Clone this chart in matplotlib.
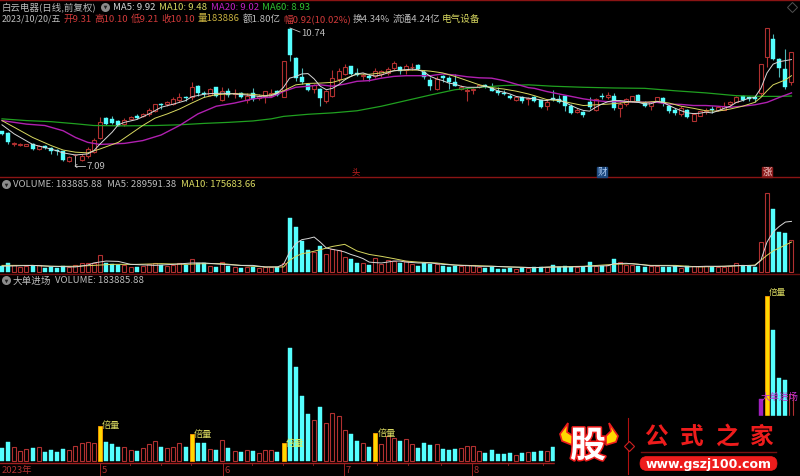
import numpy as np
from matplotlib import pyplot as plt
from matplotlib.patches import Rectangle, FancyBboxPatch, Polygon
import matplotlib.patheffects as pe

plt.rcParams['font.family'] = ['Noto Sans CJK SC', 'DejaVu Sans']

# daily candles
open_price = [7.80,7.74,7.42,7.41,7.39,7.42,7.30,7.38,7.33,7.26,
              7.22,6.95,7.12,6.99,7.10,7.20,7.61,8.17,8.14,8.09,
              8.00,8.15,8.23,8.23,8.28,8.38,8.57,8.57,8.57,8.70,
              8.77,8.76,9.09,8.89,8.84,9.05,8.69,8.95,8.87,8.89,
              8.68,8.89,8.74,8.79,8.81,8.95,8.77,10.72,9.88,9.34,
              9.14,9.00,9.00,8.66,8.80,9.29,9.43,9.65,9.46,9.36,
              9.36,9.38,9.44,9.46,9.60,9.63,9.55,9.62,9.69,9.48,
              9.27,9.00,9.36,9.31,9.19,9.00,8.94,8.97,9.06,9.12,
              9.04,8.93,8.88,8.81,8.70,8.77,8.72,8.76,8.68,8.51,
              8.75,8.73,8.79,8.53,8.34,8.35,8.62,8.40,8.81,8.77,
              8.81,8.45,8.57,8.67,8.84,8.62,8.53,8.66,8.75,8.51,
              8.39,8.29,8.40,8.10,8.24,8.36,8.42,8.40,8.41,8.58,
              8.64,8.80,8.76,8.76,8.88,9.90,10.43,9.86,9.57,9.19]
close_price = [7.72,7.48,7.46,7.43,7.43,7.29,7.38,7.33,7.24,7.23,
               6.98,7.06,7.12,7.08,7.29,7.55,8.05,8.01,8.03,7.96,
               8.13,8.21,8.18,8.30,8.40,8.57,8.55,8.62,8.72,8.77,
               8.75,9.07,8.88,8.87,8.99,8.80,8.95,8.83,8.90,8.76,
               8.81,8.73,8.79,8.93,8.88,8.83,9.79,9.98,9.32,9.19,
               8.98,9.12,8.74,8.95,9.31,9.50,9.62,9.42,9.39,9.41,
               9.32,9.52,9.51,9.57,9.74,9.52,9.67,9.62,9.57,9.34,
               9.08,9.29,9.31,9.21,9.10,9.05,8.98,9.00,9.12,9.07,
               8.95,8.88,8.85,8.75,8.76,8.67,8.74,8.67,8.50,8.64,
               8.69,8.64,8.53,8.32,8.40,8.27,8.49,8.72,8.78,8.84,
               8.46,8.57,8.72,8.79,8.64,8.53,8.62,8.76,8.60,8.36,
               8.32,8.45,8.20,8.28,8.36,8.40,8.40,8.49,8.51,8.62,
               8.77,8.69,8.72,8.71,9.70,10.73,9.86,9.59,9.05,10.05]
high_price = [7.81,7.77,7.50,7.45,7.44,7.45,7.41,7.41,7.36,7.29,
              7.24,7.10,7.15,7.15,7.34,7.60,8.21,8.19,8.23,8.12,
              8.17,8.24,8.29,8.32,8.45,8.58,8.59,8.66,8.76,8.88,
              8.80,9.19,9.11,8.95,9.02,9.07,9.05,9.04,9.00,8.92,
              8.89,9.02,8.86,8.94,9.00,8.97,9.79,10.74,9.90,9.60,
              9.16,9.14,9.02,8.98,9.54,9.59,9.70,9.67,9.59,9.46,
              9.43,9.59,9.55,9.62,9.81,9.67,9.70,9.73,9.72,9.54,
              9.33,9.38,9.40,9.36,9.44,9.12,9.02,9.02,9.15,9.14,
              9.17,9.05,8.98,8.85,8.81,8.81,8.76,8.81,8.70,8.72,
              8.98,8.83,8.81,8.57,8.45,8.38,8.76,8.74,8.89,8.91,
              8.88,8.62,8.74,8.81,8.85,8.66,8.67,8.78,8.77,8.53,
              8.45,8.51,8.42,8.30,8.38,8.45,8.53,8.53,8.62,8.67,
              8.79,8.83,8.79,8.79,9.72,10.73,10.58,9.88,10.14,10.07]
low_price = [7.69,7.42,7.37,7.38,7.37,7.27,7.27,7.29,7.15,7.13,
             6.95,6.91,7.09,6.95,7.03,7.18,7.58,7.98,8.00,7.94,
             7.95,8.13,8.15,8.19,8.24,8.34,8.43,8.51,8.55,8.62,
             8.65,8.69,8.81,8.76,8.81,8.76,8.65,8.78,8.75,8.74,
             8.59,8.66,8.70,8.60,8.79,8.81,8.76,9.79,9.24,9.14,
             8.94,8.89,8.51,8.59,8.78,9.19,9.40,9.40,9.36,9.27,
             9.24,9.32,9.34,9.40,9.54,9.43,9.43,9.55,9.54,9.29,
             8.98,8.98,9.21,9.00,9.08,8.98,8.67,8.86,9.04,9.02,
             8.93,8.84,8.82,8.72,8.67,8.60,8.55,8.62,8.47,8.39,
             8.66,8.60,8.36,8.30,8.32,8.20,8.43,8.37,8.72,8.72,
             8.41,8.19,8.51,8.62,8.62,8.48,8.40,8.62,8.53,8.32,
             8.26,8.22,8.17,8.09,8.22,8.29,8.32,8.36,8.39,8.51,
             8.62,8.67,8.66,8.62,8.79,9.62,9.84,9.33,9.00,9.12]

# volume in thousands
volume = [35,51,38,28,32,35,38,24,30,24,33,30,41,50,52,49,97,52,48,38,
          39,30,28,36,46,54,38,36,38,50,39,73,50,50,32,30,59,35,28,24,
          29,27,21,29,30,26,50,310,259,178,128,113,148,104,131,124,84,73,54,50,
          39,78,46,70,63,54,61,48,35,50,44,46,32,30,32,35,40,40,27,22,
          30,19,19,22,16,22,24,26,28,28,38,27,34,27,29,29,56,36,33,38,
          73,59,38,38,33,29,33,33,31,29,33,25,33,33,33,33,31,27,29,33,
          50,33,36,29,170,454,360,228,222,184]

# price moving averages: candle index, value
ma5_i = [0,2,5,8,10,12,14,15,16,18,19,20,22,24,26,28,30,31,33,34,36,38,40,42,44,45,46,47,48,49,
         50,51,52,53,54,55,56,57,58,59,60,61,62,63,64,65,66,67,68,69,70,71,72,73,74,75,76,77,78,79,
         80,81,82,83,84,85,86,87,88,89,90,91,92,93,94,95,96,97,98,99,100,101,102,103,104,105,106,107,108,109,
         110,111,112,113,114,115,116,117,118,119,120,121,122,123,124,125,126,127,128,129]
ma5_v = [7.98,7.72,7.42,7.29,7.18,7.12,7.15,7.24,7.43,7.77,7.98,8.05,8.13,8.29,8.48,8.57,8.67,8.78,8.85,8.87,
         8.88,8.86,8.83,8.79,8.81,8.88,9.05,9.31,9.36,9.43,
         9.44,9.29,9.08,8.98,9.02,9.12,9.26,9.36,9.43,9.46,9.40,9.37,9.40,9.46,9.52,9.54,9.55,9.57,9.55,9.48,
         9.36,9.29,9.24,9.17,9.14,9.08,9.05,9.05,9.05,9.08,
         9.02,8.95,8.91,8.86,8.79,8.76,8.74,8.72,8.69,8.67,8.72,8.69,8.62,8.53,8.45,8.39,8.37,8.48,8.57,8.64,
         8.67,8.67,8.65,8.63,8.62,8.57,8.58,8.64,8.62,8.53,
         8.45,8.38,8.32,8.30,8.31,8.34,8.32,8.38,8.45,8.51,8.62,8.67,8.74,8.76,9.02,9.46,9.71,9.78,9.81,9.84]
ma10_i = [0,2,5,8,10,12,14,16,19,21,23,25,27,29,31,33,35,38,41,43,44,46,48,50,52,54,56,58,60,62,64,66,68,70,
          72,74,76,78,80,82,84,86,87,89,91,93,95,97,99,101,103,105,107,109,111,113,115,117,119,121,123,124,125,126,127,128,129]
ma10_v = [8.10,7.91,7.62,7.39,7.26,7.20,7.18,7.29,7.48,7.72,7.96,8.17,8.29,8.43,8.60,8.76,8.84,8.87,8.85,8.81,
          8.84,8.95,9.12,9.16,9.17,9.19,9.29,9.43,9.42,9.46,9.52,9.54,9.54,9.51,
          9.46,9.36,9.24,9.12,9.04,9.00,8.94,8.86,8.81,8.70,8.67,8.60,8.53,8.55,8.57,8.60,8.64,8.62,8.65,8.60,
          8.51,8.45,8.38,8.37,8.43,8.51,8.62,8.76,8.95,9.12,9.19,9.26,9.38]
ma20_i = [0,4,7,10,12,14,16,20,23,26,29,32,35,38,41,43,44,46,48,50,52,54,56,58,60,62,64,66,68,70,72,74,76,78,80,
          82,84,86,87,89,91,93,95,97,99,101,103,105,107,109,111,113,115,117,119,121,123,125,127,129]
ma20_v = [8.10,8.00,7.96,7.81,7.62,7.48,7.42,7.45,7.53,7.69,7.96,8.29,8.51,8.60,8.72,8.76,8.76,8.93,9.05,9.08,
          9.12,9.08,9.14,9.22,9.24,9.31,9.36,9.38,9.38,9.38,9.43,9.40,9.35,9.32,9.31,
          9.24,9.14,9.04,9.02,8.93,8.86,8.79,8.72,8.67,8.64,8.64,8.64,8.62,8.62,8.57,8.56,8.53,8.53,8.51,8.48,
          8.51,8.55,8.62,8.76,8.89]
ma60_i = [0,4,8,12,15,20,25,29,33,37,41,44,46,50,54,58,62,66,70,74,78,82,86,90,95,100,105,110,115,120,124,127,129]
ma60_v = [8.15,8.10,8.07,8.01,7.96,7.95,7.96,7.98,8.02,8.05,8.09,8.15,8.22,8.28,8.32,8.38,8.51,8.67,8.83,8.98,
          9.05,9.10,9.12,9.08,9.05,9.03,9.02,8.95,8.89,8.81,8.79,8.79,8.80]

# volume moving averages
vol5_i = [0,5,8,12,14,15,17,19,21,25,28,31,33,36,39,41,43,44,45,46,47,48,49,50,51,52,53,54,55,56,57,58,59,60,61,62,63,64,65,66,
          68,70,72,75,78,80,83,87,90,93,96,99,100,102,104,106,109,112,115,118,121,123,124,125,126,127,128,129]
vol5_v = [33,38,33,29,40,52,63,61,44,38,44,52,52,44,38,38,29,29,29,44,115,163,186,192,201,172,138,130,124,115,101,90,77,57,54,52,57,63,63,57,
          52,52,44,38,33,33,29,25,29,29,33,36,48,50,44,36,36,29,33,33,38,36,67,172,230,262,287,291]
vol10_i = [0,5,8,12,15,18,22,26,30,33,36,39,43,44,46,47,48,49,50,52,54,56,58,60,62,64,66,68,71,74,78,83,87,
           90,95,100,103,106,110,114,118,122,123,124,125,126,127,128,129]
vol10_v = [38,38,33,33,38,44,44,48,44,48,48,38,29,29,29,67,90,105,111,128,147,159,121,101,90,77,63,57,52,40,36,29,25,
           29,33,44,48,38,38,29,33,38,40,67,96,121,138,155,172]

gold_bars = [16,31,46,61,125]
purple_bars = [124]

RED = '#b03030'
CYAN = '#55ffff'
BAR_W = 0.66

x = np.arange(len(volume))
x_min, x_max = -2/6.12, 798/6.12
is_up = np.array(close_price) >= np.array(open_price)

fig = plt.figure(figsize=(8, 4.77), dpi=100, facecolor='black')

def make_ax(top, bottom):
    ax = fig.add_axes([0, 1 - bottom/477, 1, (bottom - top)/477], facecolor='black')
    ax.set_xlim(x_min, x_max)
    ax.axis('off')
    return ax

# price panel
ax1 = make_ax(0, 178)
ax1.set_ylim(6.492, 11.567)
for i in x:
    col = RED if is_up[i] else '#50b8b8'
    ax1.vlines(i, low_price[i], high_price[i], color=col, lw=0.8, zorder=1)
    lo = min(open_price[i], close_price[i])
    hi = max(open_price[i], close_price[i])
    if is_up[i]:
        ax1.bar(i, max(hi - lo, 0.01), BAR_W, bottom=lo, facecolor='black', edgecolor=RED, lw=0.8, zorder=2)
    else:
        ax1.bar(i, max(hi - lo, 0.01), BAR_W, bottom=lo, facecolor=CYAN, edgecolor=CYAN, lw=0.3, zorder=2)
ax1.plot(ma60_i, ma60_v, color='#20a020', lw=0.9, zorder=3)
ax1.plot(ma20_i, ma20_v, color='#b020b0', lw=1.0, zorder=3)
ax1.plot(ma10_i, ma10_v, color='#d8d860', lw=0.7, zorder=4)
ax1.plot(ma5_i, ma5_v, color='#d8d8d8', lw=0.7, zorder=4)

# volume panel
ax2 = make_ax(178, 274)
ax2.set_ylim(-5.7, 546)
for i in x:
    if is_up[i]:
        ax2.bar(i, volume[i], BAR_W, facecolor='black', edgecolor=RED, lw=0.8)
    else:
        ax2.bar(i, volume[i], BAR_W, facecolor=CYAN, edgecolor=CYAN, lw=0.3)
ax2.plot(vol10_i, vol10_v, color='#d8d860', lw=0.7, zorder=4)
ax2.plot(vol5_i, vol5_v, color='#d8d8d8', lw=0.7, zorder=4)

# big order panel
ax3 = make_ax(275, 464)
ax3.set_ylim(-5.5, 514)
for i in x:
    if i in gold_bars:
        ax3.bar(i, volume[i], BAR_W, facecolor='#ffd800', edgecolor='#ff9a00', lw=0.6)
    elif i in purple_bars:
        ax3.bar(i, volume[i], BAR_W, facecolor='#a020c0', edgecolor='#a020c0', lw=0.3)
    elif is_up[i]:
        ax3.bar(i, volume[i], BAR_W, facecolor='black', edgecolor=RED, lw=0.8)
    else:
        ax3.bar(i, volume[i], BAR_W, facecolor=CYAN, edgecolor=CYAN, lw=0.3)

# everything else goes on an overlay in pixel coordinates
ov = fig.add_axes([0, 0, 1, 1], facecolor='none', zorder=10)
ov.set_xlim(0, 800)
ov.set_ylim(477, 0)
ov.axis('off')

def txt(px, py, s, color, size=6.9, **kw):
    ov.text(px, py, s, color=color, fontsize=size, va='center', ha='left', **kw)

def icon(px, py):
    ov.plot(px, py, 'o', ms=6.5, color='#8c8c8c', mew=0)
    ov.plot(px, py + 0.5, 'v', ms=2.6, color='#222222', mew=0)

# frame lines
for py, col in [(0.5, '#8a1414'), (178, '#8a1414'), (274.5, '#6e1010'), (464, '#a02020')]:
    ov.plot([0, 800], [py, py], color=col, lw=1.0)

# header rows
G = '#bdbdbd'
R = '#d03a3a'
Y = '#d8d860'
txt(2, 8, '白云电器(日线,前复权)', G, size=6.8)
icon(105, 7.5)
txt(113, 8, 'MA5: 9.92', '#d8d8d8')
txt(159, 8, 'MA10: 9.48', Y)
txt(211, 8, 'MA20: 9.02', '#c020c0')
txt(262, 8, 'MA60: 8.93', '#30c030')
txt(2, 19, '2023/10/20/五', G, size=6.4)
txt(63, 19, '开9.31', R)
txt(94, 19, '高10.10', R)
txt(131, 19, '低9.21', R)
txt(161, 19, '收10.10', R)
txt(198, 19, '量183886', '#c8b040')
txt(243, 19, '额1.80亿', G)
txt(283, 19, '幅0.92(10.02%)', R)
txt(353, 19, '换4.34%', G)
txt(393, 19, '流通4.24亿', G)
txt(442, 19, '电气设备', Y)

# high / low labels
ov.plot([290, 300], [29, 33], color='#c8c8c8', lw=0.6)
txt(301, 34, '10.74', G)
ov.plot([75, 75, 85], [157, 167, 167], color='#c8c8c8', lw=0.6)
ov.plot([77, 75, 77], [165.5, 167, 168.5], color='#c8c8c8', lw=0.6)
txt(86, 167, '7.09', G)

# markers at the bottom of the price panel
txt(352, 172, '头', '#c82020', size=6)
ov.add_patch(Rectangle((597, 168), 10, 9.5, color='#1e4a80', zorder=2))
txt(597.5, 172.5, '财', '#a8c8f0', size=6.8, zorder=3)
ov.add_patch(Rectangle((762, 168), 10, 9.5, color='#8a1a1a', zorder=2))
txt(762.5, 172.5, '涨', '#f0c8c8', size=6.8, zorder=3)
ov.plot(791.5, 8, 'D', ms=5.5, mfc='none', mec='#505050', mew=0.7)

# panel titles
icon(6, 185)
txt(13, 185, 'VOLUME: 183885.88', G)
txt(107, 185, 'MA5: 289591.38', G)
txt(181, 185, 'MA10: 175683.66', Y)
icon(6, 281)
txt(13, 281, '大单进场', G)
txt(55, 281, 'VOLUME: 183885.88', G)

# bar labels
txt(102, 425, '倍量', Y, size=6.6)
txt(194, 434, '倍量', Y, size=6.6)
txt(286, 443, '倍量', '#d8f060', size=6.6)
txt(378, 433, '倍量', Y, size=6.6)
txt(769, 292, '倍量', Y, size=6.2)

# time axis
for tx in [130, 161, 191, 252, 283, 313, 377, 408, 441, 508, 543]:
    ov.plot([tx, tx], [464, 466], color='#a02020', lw=0.6)
for tx, label in [(100, '5'), (223, '6'), (344, '7'), (472, '8')]:
    ov.plot([tx, tx], [464, 477], color='#a02020', lw=0.7)
    txt(tx + 1.5, 471, label, '#b03030', size=6.8)
txt(2, 471, '2023年', '#b03030', size=6.8)

# site logo covers the lower right corner
ov.add_patch(Rectangle((555, 417), 245, 60, color='black', zorder=5))
txt(761, 397, '大单进场', '#c030d0', size=6.8, zorder=6)
for pts in ([(560, 435), (562, 442), (572, 446), (573, 437), (567, 433), (568, 424)],
            [(618, 437), (616, 443), (606, 446), (606, 437), (611, 432), (609, 424)]):
    ov.add_patch(Polygon(pts, closed=True, facecolor='#ffd800', edgecolor='#ee1c1c', lw=1.2, zorder=6))
ov.text(588, 447.5, '股', color='white', fontsize=26, fontweight='bold', ha='center', va='center', zorder=7,
        path_effects=[pe.withStroke(linewidth=2.2, foreground='#ee1c1c')])
ov.plot([628, 628], [419, 475], color='#b01010', lw=0.8, zorder=6)
ov.plot(628.5, 447, 'D', ms=5.5, mfc='black', mec='#d02020', mew=0.8, zorder=7)
for tx, s in [(656, '公'), (692, '式'), (727, '之'), (762, '家')]:
    ov.text(tx, 437, s, color='#ee1c1c', fontsize=17, fontweight='bold', ha='center', va='center', zorder=6)
ov.plot([641, 776], [453, 453], color='#7a1010', lw=1.0, zorder=6)
ov.add_patch(FancyBboxPatch((640, 457.5), 137, 14, boxstyle='round,pad=0,rounding_size=7', mutation_aspect=1,
                            facecolor='#ee1c1c', edgecolor='#ee1c1c', lw=0.5, zorder=6))
ov.text(708.5, 464.5, 'www.gszj100.com', color='white', fontsize=9, fontweight='bold', ha='center', va='center',
        family='DejaVu Sans', zorder=7)

plt.savefig('out.png', dpi=100, facecolor='black')
